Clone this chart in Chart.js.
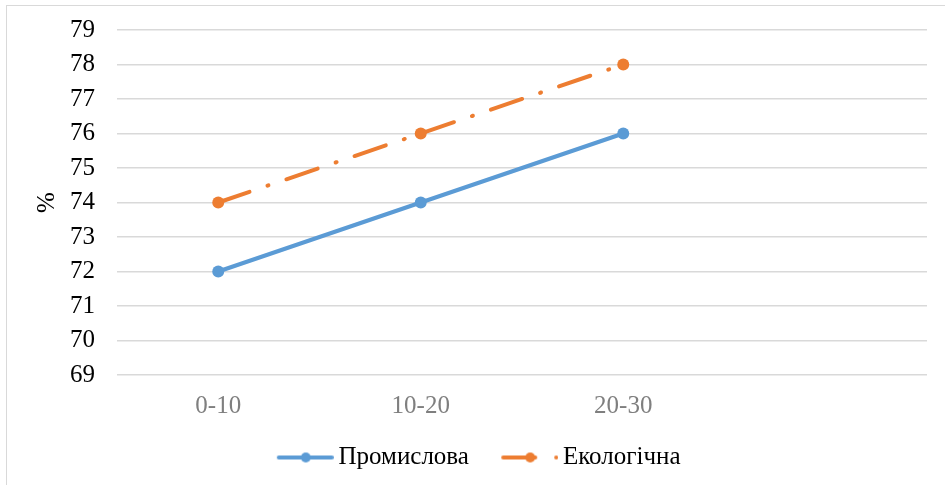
<!DOCTYPE html>
<html>
<head>
<meta charset="utf-8">
<script src="https://cdn.jsdelivr.net/npm/chart.js@4/dist/chart.umd.min.js"></script>
<style>
body { margin: 0; background: #fff; overflow: hidden; }
#frame { position: absolute; left: 6px; top: 5px; width: 960px; height: 500px; border: 1px solid #d9d9d9; }
#chart { position: absolute; left: 0; top: 0; }
</style>
</head>
<body>
<div id="frame"></div>
<canvas id="chart" width="945" height="485"></canvas>
<script>
// Chart data
const categories = ['0-10', '10-20', '20-30', ''];
const industrial = [72, 74, 76];
const ecological = [74, 76, 78];
const yMin = 69;
const yMax = 79;

const BLUE = '#5b9bd5';
const ORANGE = '#ed7d31';
const FONT = "'Liberation Serif', 'Times New Roman', serif";

// small line+dot picture for the legend, Excel style
function legendMarker(color, dashed) {
    const c = document.createElement('canvas');
    c.width = 77;
    c.height = 16;
    const ctx = c.getContext('2d');
    ctx.strokeStyle = color;
    ctx.fillStyle = color;
    ctx.lineWidth = 4;
    ctx.lineCap = 'round';
    ctx.beginPath();
    ctx.moveTo(22, 8);
    ctx.lineTo(dashed ? 54 : 75, 8);
    ctx.stroke();
    if (dashed) {
        ctx.beginPath();
        ctx.arc(75, 8, 2, 0, Math.PI * 2);
        ctx.fill();
    }
    ctx.beginPath();
    ctx.arc(49, 8, 5, 0, Math.PI * 2);
    ctx.fill();
    return c;
}

const markers = [legendMarker(BLUE, false), legendMarker(ORANGE, true)];

new Chart(document.getElementById('chart'), {
    type: 'line',
    data: {
        labels: categories,
        datasets: [{
            label: 'Промислова',
            data: industrial,
            borderColor: BLUE,
            backgroundColor: BLUE,
            borderWidth: 4,
            pointRadius: 6,
            pointHoverRadius: 6,
            pointBorderWidth: 0,
            tension: 0
        }, {
            label: 'Екологічна',
            data: ecological,
            borderColor: ORANGE,
            backgroundColor: ORANGE,
            borderWidth: 4,
            borderDash: [33, 19, 1, 19],
            borderCapStyle: 'round',
            pointRadius: 6,
            pointHoverRadius: 6,
            pointBorderWidth: 0,
            tension: 0
        }]
    },
    options: {
        responsive: false,
        animation: false,
        layout: { padding: { left: 0, right: 0, top: 30, bottom: 5 } },
        scales: {
            x: {
                offset: true,
                grid: { display: false },
                border: { display: false },
                ticks: { color: '#7f7f7f', font: { family: FONT, size: 25 }, padding: 8 },
                afterFit(s) { s.height = 50; }
            },
            y: {
                min: yMin,
                max: yMax,
                grid: { color: '#d9d9d9', lineWidth: 1.5, drawTicks: false },
                border: { display: false },
                ticks: { stepSize: 1, color: '#000', font: { family: FONT, size: 25 }, padding: 22 },
                title: { display: true, text: '%', color: '#000', font: { family: FONT, size: 25 }, padding: { top: 32, bottom: 0 } },
                afterFit(s) {
                    s.width = 117;
                    s.paddingTop = 0;
                    s.paddingBottom = 0;
                }
            },
            yRight: {
                position: 'right',
                grid: { display: false },
                border: { display: false },
                ticks: { display: false },
                afterFit(s) { s.width = 18; }
            }
        },
        plugins: {
            tooltip: { enabled: false },
            legend: {
                position: 'bottom',
                labels: {
                    usePointStyle: true,
                    pointStyleWidth: 61.5,
                    padding: 20,
                    color: '#000',
                    font: { family: FONT, size: 25 },
                    generateLabels: chart => chart.data.datasets.map((ds, i) => ({
                        text: ds.label,
                        pointStyle: markers[i],
                        fillStyle: ds.borderColor,
                        strokeStyle: ds.borderColor,
                        lineWidth: 0,
                        fontColor: '#000',
                        hidden: false,
                        datasetIndex: i
                    }))
                }
            }
        }
    }
});
</script>
</body>
</html>
